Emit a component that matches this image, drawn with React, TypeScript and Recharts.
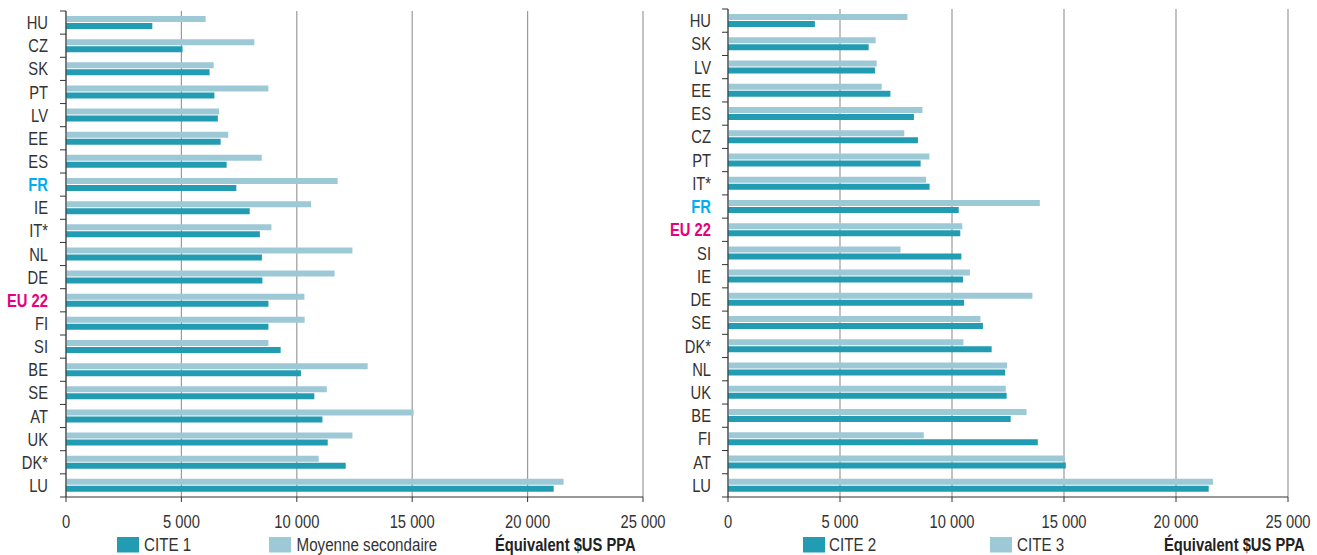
import { Bar, BarChart, CartesianGrid, XAxis, YAxis } from "recharts";

const FONT = '"Liberation Sans", Arial, sans-serif';
const NARROW = 0.82; // Liberation Sans squeezed to Arial Narrow proportions
const DARK = "#229cb3";
const LIGHT = "#9dc8d6";
const TEXT = "#333";
const highlight: Record<string, string> = { FR: "#00aeef", "EU 22": "#e6007e" };

// left panel: CITE 1 vs moyenne secondaire
const leftCountries = ["HU", "CZ", "SK", "PT", "LV", "EE", "ES", "FR", "IE", "IT*", "NL", "DE", "EU 22", "FI", "SI", "BE", "SE", "AT", "UK", "DK*", "LU"];
const cite1 = [3740, 5050, 6220, 6430, 6580, 6700, 6960, 7380, 7960, 8400, 8490, 8510, 8770, 8770, 9300, 10180, 10760, 11110, 11340, 12120, 21130];
const moyenneSecondaire = [6050, 8160, 6400, 8770, 6630, 7030, 8480, 11770, 10620, 8900, 12410, 11640, 10330, 10340, 8770, 13070, 11300, 15060, 12410, 10950, 21560];

// right panel: CITE 2 vs CITE 3
const rightCountries = ["HU", "SK", "LV", "EE", "ES", "CZ", "PT", "IT*", "FR", "EU 22", "SI", "IE", "DE", "SE", "DK*", "NL", "UK", "BE", "FI", "AT", "LU"];
const cite2 = [3880, 6280, 6560, 7250, 8300, 8480, 8600, 9000, 10300, 10370, 10420, 10490, 10540, 11380, 11770, 12370, 12440, 12620, 13830, 15080, 21460];
const cite3 = [8010, 6590, 6640, 6860, 8680, 7870, 8990, 8840, 13920, 10460, 7700, 10800, 13590, 11270, 10510, 12460, 12400, 13330, 8740, 15030, 21650];

const xTicks = [0, 5000, 10000, 15000, 20000, 25000];

const fmt = (v: number) =>
  v < 1000 ? String(v) : `${Math.floor(v / 1000)} ${String(v % 1000).padStart(3, "0")}`;

const HEIGHT = 555;
const X_AXIS_H = 58;

const NarrowText = ({ x, y, children, ...rest }: any) => (
  <text transform={`translate(${x},${y}) scale(${NARROW},1)`} fontFamily={FONT} {...rest}>
    {children}
  </text>
);

const CategoryTick = (props: any) => {
  const { x, y, payload, index, axisX, band, last } = props;
  const color = highlight[payload.value];
  return (
    <g>
      <line x1={axisX - 6} x2={axisX} y1={y - band / 2} y2={y - band / 2} stroke={TEXT} />
      {index === last && (
        <line x1={axisX - 6} x2={axisX} y1={y + band / 2} y2={y + band / 2} stroke={TEXT} />
      )}
      <NarrowText
        x={x}
        y={y}
        textAnchor="end"
        dominantBaseline="central"
        fontSize={18}
        fontWeight={color ? 700 : 400}
        fill={color ?? TEXT}
      >
        {payload.value}
      </NarrowText>
    </g>
  );
};

const ValueTick = ({ x, y, payload }: any) => (
  <NarrowText x={x} y={y} dy="0.71em" textAnchor="middle" fontSize={18} fill={TEXT}>
    {fmt(payload.value)}
  </NarrowText>
);

interface PanelProps {
  data: { country: string; light: number; dark: number }[];
  width: number;
  top: number;
  right: number;
  yWidth: number;
  labelGap: number;
}

const Panel = ({ data, width, top, right, yWidth, labelGap }: PanelProps) => {
  const band = (HEIGHT - top - X_AXIS_H) / data.length;
  return (
    <BarChart
      width={width}
      height={HEIGHT}
      data={data}
      layout="vertical"
      margin={{ top, right, left: 0, bottom: 0 }}
      barSize={6}
      barGap={1}
    >
      <CartesianGrid horizontal={false} stroke="#9a9a9a" strokeWidth={1.2} />
      <XAxis
        type="number"
        domain={[0, 25000]}
        ticks={xTicks}
        height={X_AXIS_H}
        tickSize={5}
        tickMargin={13}
        stroke={TEXT}
        tick={<ValueTick />}
      />
      <YAxis
        type="category"
        dataKey="country"
        width={yWidth}
        interval={0}
        tickSize={6}
        tickMargin={labelGap}
        tickLine={false}
        stroke={TEXT}
        tick={(p: any) => (
          <CategoryTick {...p} axisX={yWidth} band={band} last={data.length - 1} />
        )}
      />
      <Bar dataKey="light" fill={LIGHT} isAnimationActive={false} />
      <Bar dataKey="dark" fill={DARK} isAnimationActive={false} />
    </BarChart>
  );
};

const LegendItem = ({ x, textX, color, label }: { x: number; textX: number; color: string; label: string }) => (
  <g>
    <rect x={x} y={537} width={22} height={15.5} fill={color} />
    <NarrowText x={textX} y={551} fontSize={18.5} fill={TEXT}>
      {label}
    </NarrowText>
  </g>
);

export default function App() {
  const leftData = leftCountries.map((country, i) => ({
    country,
    light: moyenneSecondaire[i],
    dark: cite1[i],
  }));
  const rightData = rightCountries.map((country, i) => ({
    country,
    light: cite3[i],
    dark: cite2[i],
  }));

  return (
    <div style={{ position: "absolute", left: 0, top: 0, width: 1317, height: HEIGHT, background: "#fff" }}>
      <div style={{ position: "absolute", left: 0, top: 0 }}>
        <Panel data={leftData} width={680} top={11} right={37} yWidth={66} labelGap={12} />
      </div>
      <div style={{ position: "absolute", left: 660, top: 0 }}>
        <Panel data={rightData} width={657} top={9} right={29} yWidth={68} labelGap={11} />
      </div>
      <svg
        width={1317}
        height={HEIGHT}
        style={{ position: "absolute", left: 0, top: 0, pointerEvents: "none" }}
      >
        <LegendItem x={117} textX={144} color={DARK} label="CITE 1" />
        <LegendItem x={269} textX={296.5} color={LIGHT} label="Moyenne secondaire" />
        <NarrowText x={495} y={551} fontSize={18} fontWeight={700} fill="#222">
          Équivalent $US PPA
        </NarrowText>
        <LegendItem x={803} textX={829} color={DARK} label="CITE 2" />
        <LegendItem x={990} textX={1017} color={LIGHT} label="CITE 3" />
        <NarrowText x={1164} y={551} fontSize={18} fontWeight={700} fill="#222">
          Équivalent $US PPA
        </NarrowText>
      </svg>
    </div>
  );
}
